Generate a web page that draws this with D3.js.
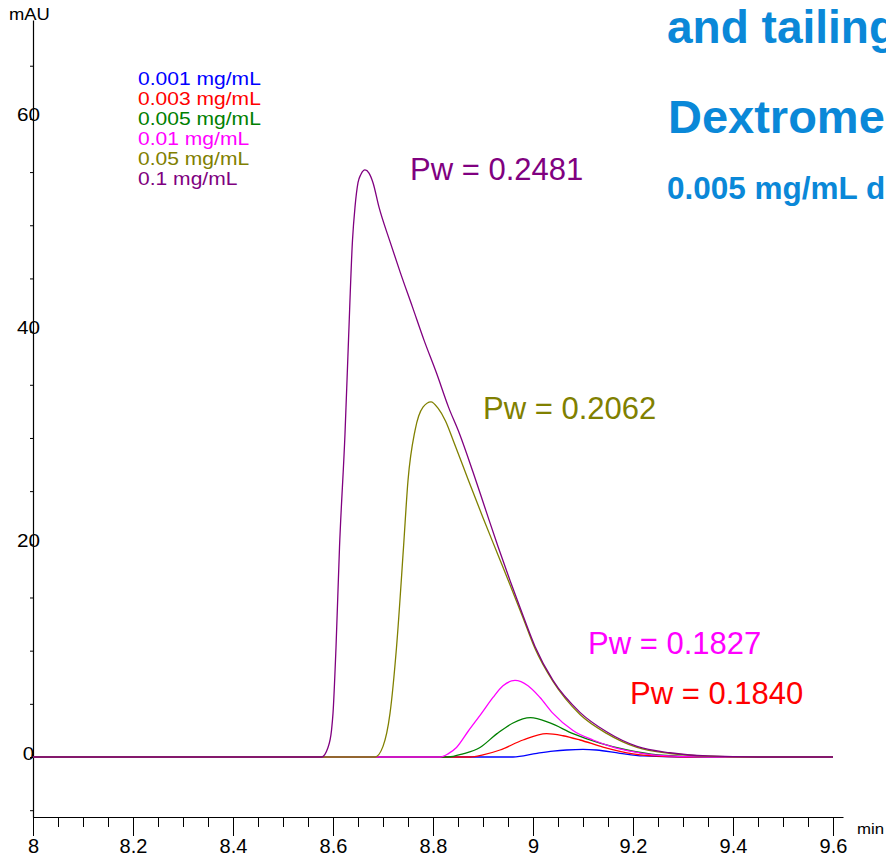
<!DOCTYPE html>
<html>
<head>
<meta charset="utf-8">
<script src="https://cdn.jsdelivr.net/npm/d3@7"></script>
<style>
  body { margin: 0; background: #fff; }
  svg { display: block; font-family: "Liberation Sans", Arial, sans-serif; }
</style>
</head>
<body>
<svg id="chart" width="886" height="856"></svg>
<script>
// legend / series names
var seriesNames = ["0.001 mg/mL", "0.003 mg/mL", "0.005 mg/mL", "0.01 mg/mL", "0.05 mg/mL", "0.1 mg/mL"];
var seriesColors = ["#0000ff", "#ff0000", "#008000", "#ff00ff", "#808000", "#800080"];

// retention time (min) and absorbance (mAU)
var time001 = [8.0, 8.96, 9.008, 9.04, 9.067, 9.1, 9.127, 9.174, 9.22, 9.3, 9.6];
var mau001  = [0, 0, 0.35, 0.55, 0.66, 0.72, 0.66, 0.35, 0.1, 0, 0];

var time003 = [8.0, 8.874, 8.9, 8.934, 8.98, 9.027, 9.06, 9.094, 9.14, 9.2, 9.27, 9.35, 9.6];
var mau003  = [0, 0, 0.2, 0.66, 1.6, 2.2, 2.0, 1.6, 0.94, 0.3, 0.05, 0, 0];

var time005 = [8.0, 8.83, 8.86, 8.894, 8.928, 8.96, 8.995, 9.034, 9.08, 9.134, 9.188, 9.25, 9.35, 9.6];
var mau005  = [0, 0, 0.3, 0.9, 2.2, 3.2, 3.7, 3.2, 2.2, 1.3, 0.66, 0.2, 0, 0];

var time01 = [8.0, 8.814, 8.83, 8.847, 8.87, 8.897, 8.92, 8.94, 8.964, 8.99, 9.014, 9.04, 9.08, 9.12, 9.16, 9.2, 9.25, 9.35, 9.6];
var mau01  = [0, 0, 0.3, 0.9, 2.4, 4.1, 5.6, 6.7, 7.2, 6.7, 5.6, 4.1, 2.5, 1.6, 0.94, 0.5, 0.15, 0, 0];

var time05 = [8.0, 8.684, 8.7, 8.714, 8.727, 8.741, 8.75, 8.764, 8.78, 8.796, 8.81, 8.825, 8.841, 8.871, 8.9, 8.93, 8.954, 8.98, 9.004, 9.04, 9.094, 9.148, 9.208, 9.274, 9.35, 9.45, 9.6];
var mau05  = [0, 0, 1.0, 4.1, 10.3, 19.7, 26.0, 30.7, 32.9, 33.4, 32.8, 31.6, 29.7, 26.0, 22.5, 19.0, 16.2, 13.1, 10.2, 7.1, 4.0, 2.2, 0.9, 0.33, 0.08, 0, 0];

var time1 = [8.0, 8.577, 8.59, 8.597, 8.6, 8.606, 8.613, 8.624, 8.631, 8.639, 8.644, 8.65, 8.656, 8.664, 8.672, 8.68, 8.692, 8.713, 8.735, 8.759, 8.782, 8.807, 8.831, 8.853, 8.88, 8.907, 8.93, 8.954, 8.98, 9.004, 9.04, 9.094, 9.148, 9.208, 9.274, 9.35, 9.45, 9.6];
var mau1  = [0, 0, 0.9, 2.5, 4.1, 10.3, 19.7, 30.4, 39.2, 48.6, 51.7, 54.0, 54.8, 55.2, 54.9, 54.0, 51.7, 48.6, 45.5, 42.3, 39.2, 36.1, 32.9, 30.4, 26.8, 23.0, 19.8, 16.6, 13.3, 10.4, 7.2, 4.2, 2.35, 1.0, 0.4, 0.1, 0, 0];

var seriesTimes = [time001, time003, time005, time01, time05, time1];
var seriesValues = [mau001, mau003, mau005, mau01, mau05, mau1];

// peak width annotations
var pwLabels = ["Pw = 0.2481", "Pw = 0.2062", "Pw = 0.1827", "Pw = 0.1840"];
var pwColors = ["#800080", "#808000", "#ff00ff", "#ff0000"];

// axis ticks
var xMajorTicks = [8, 8.2, 8.4, 8.6, 8.8, 9, 9.2, 9.4, 9.6];
var xMinorTicks = [8, 8.05, 8.1, 8.15, 8.2, 8.25, 8.3, 8.35, 8.4, 8.45, 8.5, 8.55, 8.6, 8.65, 8.7, 8.75, 8.8, 8.85,
                   8.9, 8.95, 9, 9.05, 9.1, 9.15, 9.2, 9.25, 9.3, 9.35, 9.4, 9.45, 9.5, 9.55, 9.6];
var yMinorTicks = [-5, 0, 5, 10, 15, 20, 25, 30, 35, 40, 45, 50, 55, 60, 65];
var yLabelTicks = [0, 20, 40, 60];

// header text (runs off the right edge in the original)
var titleLines = ["and tailing", "Dextrome", "0.005 mg/mL d"];

var svg = d3.select("#chart");

var x = d3.scaleLinear().domain([8, 9.62]).range([33, 843]);
var y = d3.scaleLinear().domain([-5.64, 69.3]).range([817, 20]);

// x axis: minor ticks, then major ticks with labels
svg.append("g")
    .attr("transform", "translate(0,817)")
    .call(d3.axisBottom(x).tickValues(xMinorTicks).tickSize(10).tickSizeOuter(0).tickFormat(""))
    .call(function(g) { g.select(".domain").attr("stroke-width", 1.2); });

svg.append("g")
    .attr("transform", "translate(0,817)")
    .call(d3.axisBottom(x).tickValues(xMajorTicks).tickSize(19).tickSizeOuter(0)
        .tickFormat(function(d) { return String(+d.toFixed(1)); }))
    .call(function(g) {
        g.select(".domain").remove();
        g.selectAll("text").style("font-size", "20px").attr("fill", "#000")
            .attr("font-family", "Liberation Sans, Arial, sans-serif");
    });

// y axis
svg.append("g")
    .attr("transform", "translate(33,0)")
    .call(d3.axisLeft(y).tickValues(yMinorTicks).tickSize(3).tickSizeOuter(0).tickFormat(""))
    .call(function(g) { g.select(".domain").attr("stroke-width", 1.2); });

svg.append("g")
    .attr("transform", "translate(33,0)")
    .selectAll("text")
    .data(yLabelTicks)
    .enter().append("text")
    .attr("transform", function(d) { return "translate(-4.5," + (y(d) + 2.5) + ") scale(1.15,1)"; })
    .attr("text-anchor", "middle")
    .style("font-size", "18px")
    .text(function(d) { return d; });

// units
svg.append("text")
    .attr("transform", "translate(9,20) scale(1.15,1)")
    .style("font-size", "16px")
    .text("mAU");
svg.append("text")
    .attr("transform", "translate(857,834) scale(1.12,1)")
    .style("font-size", "15px")
    .text("min");

// traces
var line = d3.line()
    .x(function(d) { return x(d[0]); })
    .y(function(d) { return y(d[1]); })
    .curve(d3.curveMonotoneX);

svg.append("g").selectAll("path")
    .data(seriesTimes.map(function(t, i) { return d3.zip(t, seriesValues[i]); }))
    .enter().append("path")
    .attr("d", line)
    .attr("fill", "none")
    .attr("stroke", function(d, i) { return seriesColors[i]; })
    .attr("stroke-width", 1.3);

// legend
svg.append("g").selectAll("text")
    .data(seriesNames)
    .enter().append("text")
    .attr("transform", function(d, i) { return "translate(138," + (85 + i * 20) + ") scale(1.17,1)"; })
    .style("font-size", "18px")
    .attr("fill", function(d, i) { return seriesColors[i]; })
    .text(function(d) { return d; });

// Pw labels
var pwPos = [[410, 180], [483, 419], [588, 654], [630, 704]];
svg.append("g").selectAll("text")
    .data(pwLabels)
    .enter().append("text")
    .attr("x", function(d, i) { return pwPos[i][0]; })
    .attr("y", function(d, i) { return pwPos[i][1]; })
    .style("font-size", "31px")
    .attr("fill", function(d, i) { return pwColors[i]; })
    .text(function(d) { return d; });

// header
var titleStyle = [[667, 43, 46], [668, 133, 47], [667, 199, 31.5]];
svg.append("g").selectAll("text")
    .data(titleLines)
    .enter().append("text")
    .attr("x", function(d, i) { return titleStyle[i][0]; })
    .attr("y", function(d, i) { return titleStyle[i][1]; })
    .style("font-size", function(d, i) { return titleStyle[i][2] + "px"; })
    .style("font-weight", "bold")
    .attr("fill", "#0a88d8")
    .text(function(d) { return d; });
</script>
</body>
</html>
